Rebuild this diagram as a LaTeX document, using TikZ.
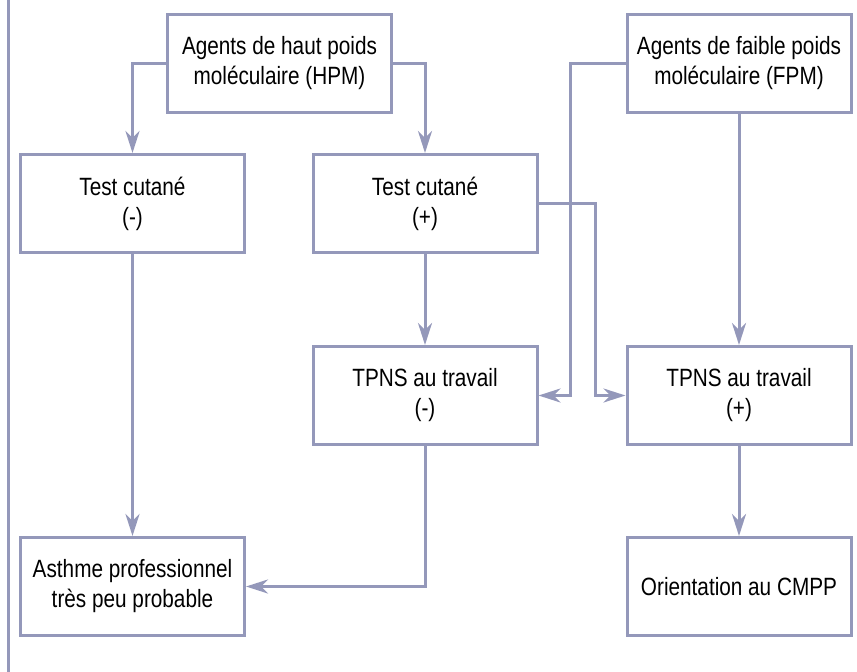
\documentclass[tikz,border=0pt]{standalone}
\usepackage{fontspec}
\setmainfont[FakeStretch=0.83]{Liberation Sans}
\usepackage{xcolor}
\usepackage{tikz}
\usetikzlibrary{arrows.meta, positioning}
\definecolor{trait}{RGB}{148,152,186}

\begin{document}
\begin{tikzpicture}[x=1pt,y=-1pt,
    boite/.style={draw=trait,line width=3pt,fill=white,align=center,
        minimum width=224pt,minimum height=98pt,inner sep=0pt,
        font=\fontsize{25}{30}\selectfont},
    lien/.style={draw=trait,line width=3pt},
    fleche/.style={lien,-{Stealth[length=22pt,width=14pt,inset=7pt]}}]
            \useasboundingbox (0,0) rectangle (857,672);
            \draw[lien] (8,0) -- (8,672);
            \node[boite](hpm) at (279.5,63) {Agents de haut poids\\mol\'eculaire (HPM)};
            \node[boite](fpm) at (739,63) {Agents de faible poids\\mol\'eculaire (FPM)};
            \node[boite](tcm) at (132.5,203.5) {Test cutan\'e\\(-)};
            \node[boite](tcp) at (425,203.5) {Test cutan\'e\\(+)};
            \node[boite](tpm) at (425,395.5) {TPNS au travail\\(-)};
            \node[boite](tpp) at (739,395.5) {TPNS au travail\\(+)};
            \node[boite](asth) at (132.5,586.5) {Asthme professionnel\\tr\`es peu probable};
            \node[boite](cmpp) at (739,586.5) {Orientation au CMPP};
            \draw[fleche] (hpm.west) -| (tcm.north);
            \draw[fleche] (hpm.east) -| (tcp.north);
            \draw[fleche] (tcm) -- (asth);
            \draw[fleche] (tcp) -- (tpm);
            \draw[fleche] (fpm.west) -- ++(-55,0) |- (tpm.east);
            \draw[fleche] (tcp.east) -- ++(57,0) |- (tpp.west);
            \draw[fleche] (fpm) -- (tpp);
            \draw[fleche] (tpm.south) |- (asth.east);
            \draw[fleche] (tpp) -- (cmpp);
        \end{tikzpicture}
\end{document}
